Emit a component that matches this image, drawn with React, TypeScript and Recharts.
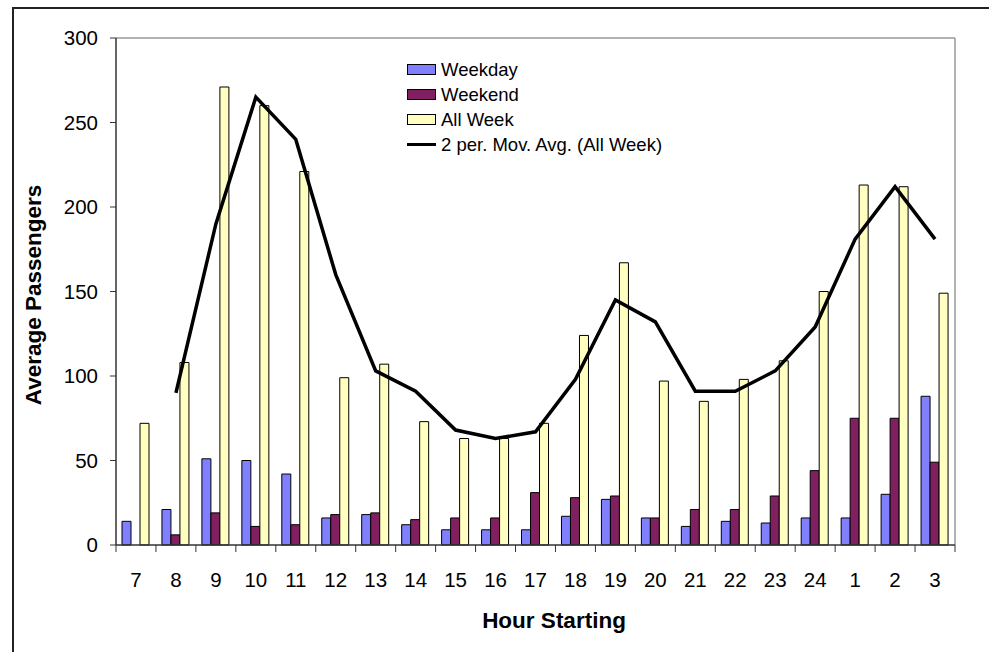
import React from 'react';
import {
  ComposedChart,
  Bar,
  Line,
  XAxis,
  YAxis,
  CartesianGrid,
  Legend,
} from 'recharts';

// hour of day (7am through 3am)
const hours = ['7', '8', '9', '10', '11', '12', '13', '14', '15', '16', '17', '18', '19', '20', '21', '22', '23', '24', '1', '2', '3'];
const weekday = [14, 21, 51, 50, 42, 16, 18, 12, 9, 9, 9, 17, 27, 16, 11, 14, 13, 16, 16, 30, 88];
const weekend = [0, 6, 19, 11, 12, 18, 19, 15, 16, 16, 31, 28, 29, 16, 21, 21, 29, 44, 75, 75, 49];
const allWeek = [72, 108, 271, 260, 221, 99, 107, 73, 63, 63, 72, 124, 167, 97, 85, 98, 109, 150, 213, 212, 149];
const movAvg = [null, 90, 190, 265, 240, 160, 103, 91, 68, 63, 67, 98, 145, 132, 91, 91, 103, 129, 181, 212, 181];
const yTicks = [0, 50, 100, 150, 200, 250, 300];

const data = hours.map((h, i) => ({
  hour: h,
  weekday: weekday[i],
  weekend: weekend[i],
  allWeek: allWeek[i],
  movAvg: movAvg[i],
}));

const FONT = '"Liberation Sans", Arial, sans-serif';
const W = 989;
const H = 652;
const PLOT_LEFT = 116;
const PLOT_RIGHT = 955;
const PLOT_TOP = 38;
const PLOT_BOTTOM = 545;
const X_AXIS_H = 60;
const BAND = (PLOT_RIGHT - PLOT_LEFT) / hours.length;

const legendItems = [
  { name: 'Weekday', color: '#8080FF', type: 'rect' },
  { name: 'Weekend', color: '#802060', type: 'rect' },
  { name: 'All Week', color: '#FFFFC0', type: 'rect' },
  { name: '2 per. Mov. Avg. (All Week)', color: '#000', type: 'line' },
];

const LegendBox = () => (
  <div style={{ fontFamily: FONT, fontSize: 18.5, color: '#000' }}>
    {legendItems.map((it) => (
      <div key={it.name} style={{ display: 'flex', alignItems: 'center', height: 25 }}>
        {it.type === 'rect' ? (
          <span style={{ width: 27, height: 9, background: it.color, border: '1px solid #000', marginRight: 5 }} />
        ) : (
          <span style={{ width: 29, height: 3, background: '#000', marginRight: 5 }} />
        )}
        <span>{it.name}</span>
      </div>
    ))}
  </div>
);

// Excel-style category axis: ticks sit between categories
const HourTick = (props: any) => {
  const { x, payload, index } = props;
  return (
    <g>
      <line x1={x - BAND / 2} y1={PLOT_BOTTOM} x2={x - BAND / 2} y2={PLOT_BOTTOM + 7} stroke="#333" />
      {index === hours.length - 1 && (
        <line x1={x + BAND / 2} y1={PLOT_BOTTOM} x2={x + BAND / 2} y2={PLOT_BOTTOM + 7} stroke="#333" />
      )}
      <text x={x} y={PLOT_BOTTOM + 42} textAnchor="middle" fontFamily={FONT} fontSize={20.5} fill="#000">
        {payload.value}
      </text>
    </g>
  );
};

const App = () => {
  const midY = (PLOT_TOP + PLOT_BOTTOM) / 2;
  return (
    <div style={{ position: 'absolute', left: 0, top: 0, width: W, height: H, overflow: 'hidden', background: '#fff' }}>
      <div
        style={{
          position: 'absolute',
          left: 12,
          top: 7,
          width: W,
          height: H,
          borderTop: '2px solid #222',
          borderLeft: '2px solid #222',
        }}
      />
      <ComposedChart
        width={W}
        height={H}
        data={data}
        margin={{ top: PLOT_TOP, right: W - PLOT_RIGHT, bottom: H - PLOT_BOTTOM - X_AXIS_H, left: 56 }}
        barGap={0}
        style={{ position: 'absolute', left: 0, top: 0 }}
      >
        <CartesianGrid
          horizontal
          vertical
          horizontalPoints={[PLOT_TOP]}
          verticalPoints={[PLOT_RIGHT]}
          stroke="#999"
          strokeWidth={1.5}
        />
        <XAxis
          dataKey="hour"
          height={X_AXIS_H}
          axisLine={{ stroke: '#333', strokeWidth: 1.5 }}
          tickLine={false}
          tick={<HourTick />}
          interval={0}
          label={{
            value: 'Hour Starting',
            content: () => (
              <text x={554} y={628} textAnchor="middle" fontFamily={FONT} fontSize={22.5} fontWeight="bold" fill="#000">
                Hour Starting
              </text>
            ),
          }}
        />
        <YAxis
          width={60}
          domain={[0, 300]}
          ticks={yTicks}
          interval={0}
          axisLine={{ stroke: '#333', strokeWidth: 1.5 }}
          tickLine={{ stroke: '#333' }}
          tickSize={6}
          tickMargin={12}
          tick={{ fontFamily: FONT, fontSize: 20.5, fill: '#000' }}
          label={{
            value: 'Average Passengers',
            content: () => (
              <text
                x={41}
                y={295}
                transform={`rotate(-90 41 295)`}
                textAnchor="middle"
                fontFamily={FONT}
                fontSize={22.5}
                fontWeight="bold"
                fill="#000"
              >
                Average Passengers
              </text>
            ),
          }}
        />
        <Legend
          layout="vertical"
          align="center"
          verticalAlign="middle"
          content={<LegendBox />}
          wrapperStyle={{ left: 407, top: 57, width: 320 }}
        />
        <Bar dataKey="weekday" name="Weekday" fill="#8080FF" stroke="#000" strokeWidth={1} barSize={9} isAnimationActive={false} />
        <Bar dataKey="weekend" name="Weekend" fill="#802060" stroke="#000" strokeWidth={1} barSize={9} isAnimationActive={false} />
        <Bar dataKey="allWeek" name="All Week" fill="#FFFFC0" stroke="#000" strokeWidth={1} barSize={9} isAnimationActive={false} />
        <Line
          dataKey="movAvg"
          name="2 per. Mov. Avg. (All Week)"
          type="linear"
          stroke="#000"
          strokeWidth={3.5}
          dot={false}
          activeDot={false}
          isAnimationActive={false}
        />
      </ComposedChart>
    </div>
  );
};

export default App;
